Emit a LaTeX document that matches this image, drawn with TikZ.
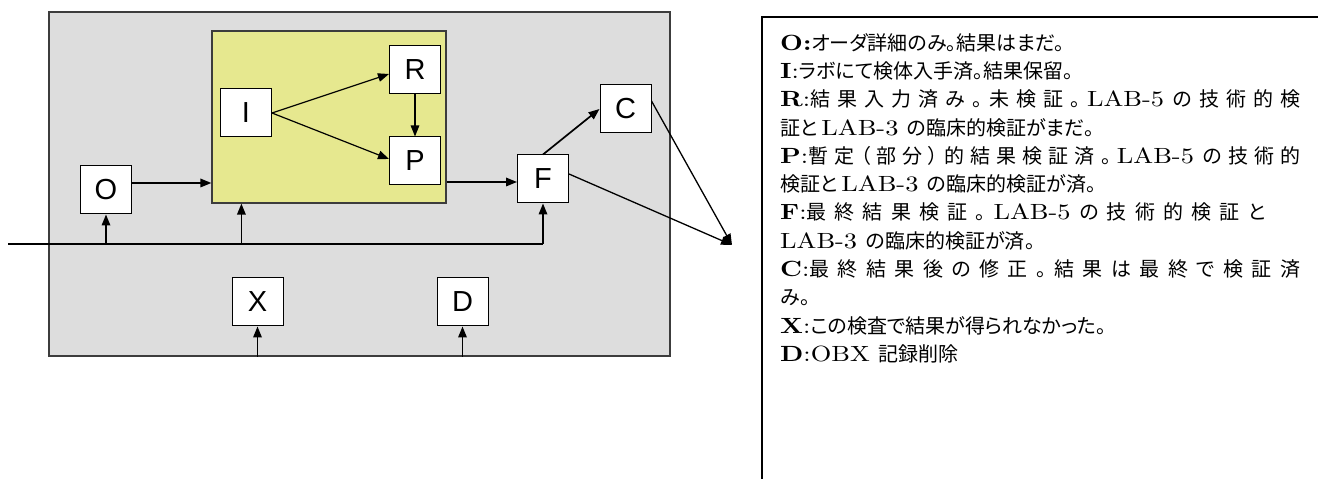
\documentclass[tikz,border=0pt]{standalone}
\usepackage{fontspec}
\setmainfont{lmroman10}[Extension=.otf, UprightFont=*-regular, BoldFont=*-bold, FakeStretch=1.2]
\newfontfamily\jpfont{Noto Sans CJK JP}[RawFeature=+palt]
\newfontfamily\boxfont{Liberation Sans}
\usetikzlibrary{positioning, arrows.meta}
\definecolor{areagray}{HTML}{DDDDDD}
\definecolor{areayellow}{HTML}{E6E88F}
\definecolor{edgegray}{HTML}{3C3C3C}
\newcommand{\jtxt}[1]{{\jpfont\fontsize{20}{28.3}\selectfont #1}}
% spread japanese text for the justified lines
\def\spreadnext#1{\ifx#1\relax\else#1\hskip0pt plus 1fil\expandafter\spreadnext\fi}
\newcommand{\jsp}[1]{{\jpfont\fontsize{20}{28.3}\selectfont\spreadnext#1\relax}}
\newcommand{\fullline}[2][520pt]{\makebox[#1][s]{#2\unskip}}

\begin{document}
\begin{tikzpicture}[x=1pt, y=1pt,
    every node/.style={inner sep=0pt},
    area/.style={draw=edgegray, line width=1.2pt, fill=#1},
    sbox/.style={draw, line width=1pt, fill=white,
                 minimum width=51pt, minimum height=48pt,
                 font=\boxfont\fontsize{29}{30}\selectfont},
    flow/.style={->, line width=1.7pt},
    >={Triangle[length=11pt, width=8.5pt]},
  ]
  \useasboundingbox (0,0) rectangle (1318,479);

  \node[area=areagray, minimum width=621pt, minimum height=344pt] (frame) at (359.5,295) {};
  \node[area=areayellow, minimum width=234pt, minimum height=172pt] (lab) at (329,362) {};

  \node[sbox] (I) at (246,366) {I};
  \node[sbox] (R) at (415,409) {R};
  \node[sbox] (P) at (415,318) {P};
  \node[sbox] (O) at (106,289) {O};
  \node[sbox] (F) at (543,300) {F};
  \node[sbox] (C) at (625.5,370) {C};
  \node[sbox] (X) at (257.5,177) {X};
  \node[sbox] (D) at (462.5,177) {D};

  \coordinate (busin) at (8,235);
  \coordinate (tip) at (732,234);

  \draw[line width=1.2pt] (busin) -- (F.south |- busin);
  \draw[flow] (O.south |- busin) -- (O.south);
  \draw[flow] ([xshift=30pt]lab.south west |- busin) -- ([xshift=30pt]lab.south west);
  \draw[flow] (F.south |- busin) -- (F.south);

  \draw[flow] ([yshift=7pt]O.east) -- ([yshift=7pt]O.east -| lab.west);
  \draw[flow] ([yshift=-3pt]F.west -| lab.east) -- ([yshift=-3pt]F.west);
  \draw[->, line width=1.2pt] (I.east) -- ([yshift=-4pt]R.west);
  \draw[->, line width=1.2pt] (I.east) -- ([yshift=2pt]P.west);
  \draw[->, line width=1.2pt] (R.south) -- (P.north);
  \draw[flow] (F.north) -- (C.west);
  \draw[->, line width=1.3pt] ([yshift=8pt]C.east) -- (tip);
  \draw[->, line width=1.3pt] ([yshift=5pt]F.east) -- (tip);

  \draw[flow] (X.south |- frame.south) -- (X.south);
  \draw[flow] (D.south |- frame.south) -- (D.south);

  \draw[line width=1.2pt] (1318,462) -| (762,0);
  \node[anchor=north west, align=left, font=\fontsize{22}{28.3}\selectfont] (legend) at (780,446) {%
    \textbf{O:}\jtxt{オーダ詳細のみ。結果はまだ。}\\
    \textbf{I}:\jtxt{ラボにて検体入手済。結果保留。}\\
    \fullline{\textbf{R}:\jsp{結果入力済み。未検証。}LAB-5 \jsp{の技術的検}}\\
    \jtxt{証と}\,LAB-3 \jtxt{の臨床的検証がまだ。}\\
    \fullline{\textbf{P}:\jsp{暫定（部分）的結果検証済。}LAB-5 \jsp{の技術的}}\\
    \jtxt{検証と}\,LAB-3 \jtxt{の臨床的検証が済。}\\
    \fullline[485pt]{\textbf{F}:\jsp{最終結果検証。}LAB-5 \jsp{の技術的検証と}}\\
    LAB-3 \jtxt{の臨床的検証が済。}\\
    \fullline{\textbf{C}:\jsp{最終結果後の修正。結果は最終で検証済}}\\
    \jtxt{み。}\\
    \textbf{X}:\jtxt{この検査で結果が得られなかった。}\\
    \textbf{D}:OBX \jtxt{記録削除}};
\end{tikzpicture}
\end{document}
